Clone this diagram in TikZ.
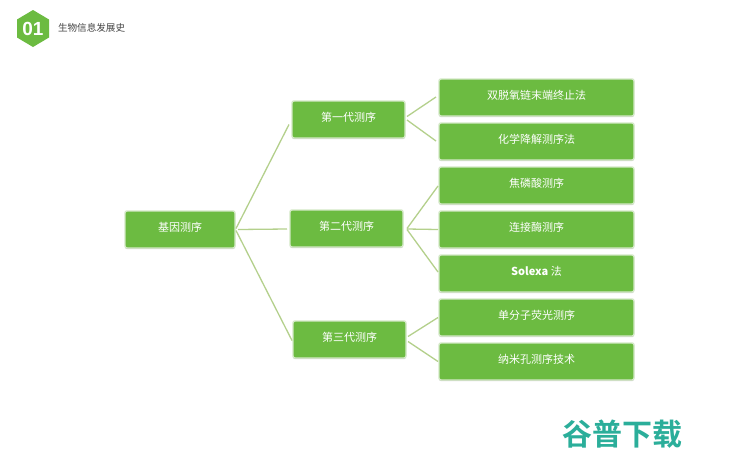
\documentclass[tikz,border=0pt]{standalone}
\usepackage{fontspec}
\setmainfont{Liberation Sans}
\newfontfamily\cjk{Noto Sans CJK SC}
\newfontfamily\cjkb{Noto Sans CJK SC Bold}
\usetikzlibrary{calc,shadows}
\definecolor{boxgreen}{HTML}{6CBB41}
\definecolor{boxedge}{HTML}{D3E8C6}
\definecolor{linkline}{HTML}{B4D08C}
\definecolor{teal}{HTML}{2BAE9A}
\definecolor{titlegray}{HTML}{444444}
\tikzset{
 every node/.style={inner sep=0pt,outer sep=0pt},
 boxbase/.style={fill=boxgreen,draw=boxedge,line width=1.4pt,rounded corners=2pt,text=white,align=center,font=\cjk\fontsize{11}{13}\selectfont,anchor=center,text height=9.5pt,text depth=5.5pt,
   drop shadow={shadow xshift=0pt,shadow yshift=-1.2pt,opacity=.35,fill=gray}},
 midbox/.style={boxbase,minimum width=113pt,minimum height=37pt},
 leafbox/.style={boxbase,minimum width=195pt,minimum height=37pt},
 link/.style={draw=linkline,line width=1.3pt},
}
\begin{document}
\begin{tikzpicture}[x=1pt,y=-1pt]
\useasboundingbox (0,0) rectangle (740,456);
\fill[white] (0,0) rectangle (740,456);
\fill[boxgreen] (33,10) -- (49,19.5) -- (49,37.5) -- (33,47) -- (17,37.5) -- (17,19.5) -- cycle;
\node[text=white,font=\bfseries\fontsize{19}{19}\selectfont] (num) at (33,28.5) {01};
\node[anchor=west,text=titlegray,font=\cjk\fontsize{9.6}{11}\selectfont] (title) at (58,28) {生物信息发展史};
\node[midbox,minimum width=110pt] (root) at (180,229.5) {基因测序};
\node[midbox] (ga) at (348.5,119.5) {第一代测序};
\node[midbox] (gb) at (346.5,228.5) {第二代测序};
\node[midbox] (gc) at (349.5,339.5) {第三代测序};
\node[leafbox] (l1) at (536.5,97.5) {双脱氧链末端终止法};
\node[leafbox] (l2) at (536.5,141.5) {化学降解测序法};
\node[leafbox] (l3) at (536.5,185.5) {焦磷酸测序};
\node[leafbox] (l4) at (536.5,229.5) {连接酶测序};
\node[leafbox] (l5) at (536.5,273.5) {\textbf{Solexa} 法};
\node[leafbox] (l6) at (536.5,317.5) {单分子荧光测序};
\node[leafbox] (l7) at (536.5,361.5) {纳米孔测序技术};
\draw[link] ($(root.east)+(1,-1)$) -- ($(ga.west)+(-3,5)$);
\draw[link] ($(root.east)+(3,0)$) -- ($(gb.west)+(-3,0.5)$);
\draw[link] ($(root.east)+(1,1)$) -- ($(gc.west)+(-1,1)$);
\draw[link] ($(ga.east)+(2,-3)$) -- ($(l1.west)+(-3,-0.5)$);
\draw[link] ($(ga.east)+(2,0.5)$) -- ($(l2.west)+(-3,-0.5)$);
\draw[link] ($(gb.east)+(4,0)$) -- ($(l3.west)+(-1,0.5)$);
\draw[link] ($(gb.east)+(4,0.5)$) -- ($(l4.west)+(-1,0)$);
\draw[link] ($(gb.east)+(4,1)$) -- ($(l5.west)+(-1,-1.5)$);
\draw[link] ($(gc.east)+(2,-3)$) -- ($(l6.west)+(-1,0)$);
\draw[link] ($(gc.east)+(2,2)$) -- ($(l7.west)+(-1,0)$);
\node[text=teal,font=\cjkb\fontsize{30}{30}\selectfont] (mark) at (622.5,434) {谷普下载};
\end{tikzpicture}
\end{document}
